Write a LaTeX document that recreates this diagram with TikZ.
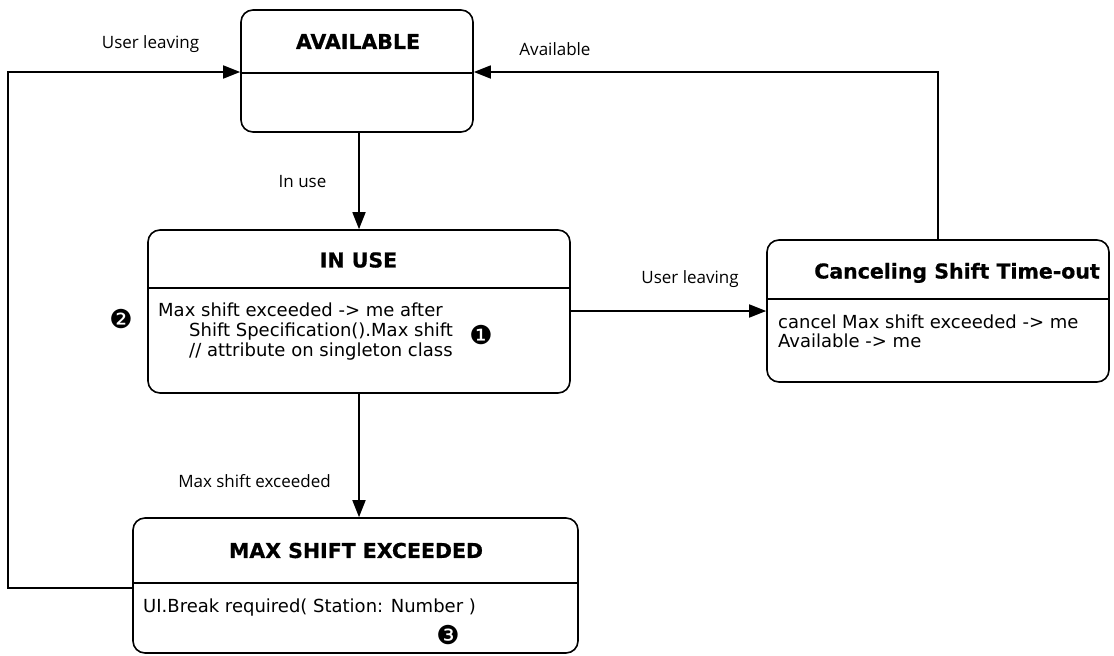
\documentclass[tikz,border=0pt]{standalone}
\usepackage{fontspec}
\setmainfont{DejaVu Sans}
\newfontfamily\labfont{Open Sans}
\newfontfamily\titfont{DejaVu Sans}[BoldFeatures={FakeBold=0.7}]
\newfontfamily\symfont{DejaVu Sans}
\usetikzlibrary{arrows.meta}
\begin{document}
\begin{tikzpicture}[x=1pt,y=-1pt,
  state/.style={draw,line width=1.6pt,rounded corners=12pt,inner sep=0pt},
  divider/.style={line width=1.6pt},
  arr/.style={line width=1.6pt,-{Triangle[length=17pt,width=13pt]}},
  ttl/.style={font=\titfont\bfseries\fontsize{20.5}{24}\selectfont,inner sep=0pt},
  body/.style={font=\fontsize{18}{20}\selectfont,anchor=base west,inner sep=0pt},
  lab/.style={font=\labfont\fontsize{17}{20}\selectfont,anchor=base,inner sep=0pt},
  num/.style={font=\symfont\fontsize{26}{28}\selectfont,inner sep=0pt}]
\useasboundingbox (0,0) rectangle (1114,656);
% states
\node[state,minimum width=232pt,minimum height=122pt] (avail) at (357,71) {};
\node[state,minimum width=422pt,minimum height=163pt] (inuse) at (359,311.5) {};
\node[state,minimum width=342pt,minimum height=142pt] (canc) at (938,311) {};
\node[state,minimum width=445pt,minimum height=135pt] (max) at (355.5,585.5) {};
% dividers
\draw[divider] (avail.west |- 0,73) -- (avail.east |- 0,73);
\draw[divider] (inuse.west |- 0,288) -- (inuse.east |- 0,288);
\draw[divider] (canc.west |- 0,299) -- (canc.east |- 0,299);
\draw[divider] (max.west |- 0,583) -- (max.east |- 0,583);
% titles
\node[ttl] (tavail) at (358,41.5) {AVAILABLE};
\node[ttl] (tinuse) at (358.5,260) {IN USE};
\node[ttl,anchor=base] (tcanc) at (957,278.5) {Canceling Shift Time-out};
\node[ttl] (tmax) at (356,550.5) {MAX SHIFT EXCEEDED};
% bodies
\node[body] (binuse1) at (158,316.5) {Max shift exceeded -> me after};
\node[body] (binuse2) at (189,336.5) {Shift Specification().Max shift};
\node[body] (binuse3) at (189,356.5) {// attribute on singleton class};
\node[body] (bcanc1) at (778,328.5) {cancel Max shift exceeded -> me};
\node[body] (bcanc2) at (778,347.5) {Available -> me};
\node[body] (bmax) at (143,612.5) {UI.Break required( Station: Number )};
% numbers
\node[num] (n2) at (121,319) {❷};
\node[num] (n1) at (481,335) {❶};
\node[num] (n3) at (448,635) {❸};
% transitions
\coordinate (lc1) at (8,588);
\coordinate (lc2) at (8,72);
\draw[arr] (max.west |- 0,588) -- (lc1) -- (lc2) -- (avail.west |- 0,72);
\draw[arr] (canc.north) |- (avail.east |- 0,72);
\draw[arr] (avail.south -| inuse.north) -- (inuse.north);
\draw[arr] (inuse.east |- 0,311) -- (canc.west |- 0,311);
\draw[arr] (inuse.south) -- (inuse.south |- max.north);
% labels
\node[lab] (l1) at (150.5,48) {User leaving};
\node[lab] (l2) at (555,55) {Available};
\node[lab] (l3) at (302.5,187) {In use};
\node[lab] (l4) at (690,283) {User leaving};
\node[lab] (l5) at (254.5,487) {Max shift exceeded};
\end{tikzpicture}
\end{document}
